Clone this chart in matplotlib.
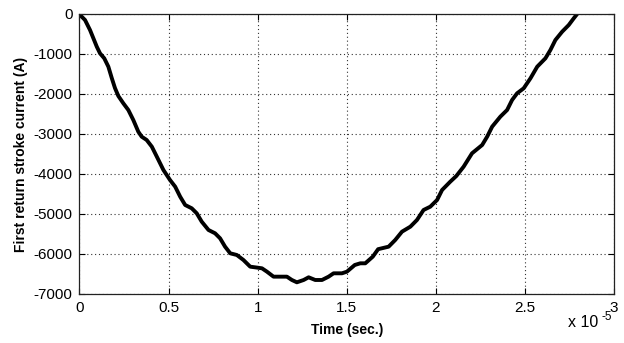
import matplotlib
matplotlib.use("Agg")
import matplotlib.pyplot as plt
from matplotlib.ticker import FuncFormatter

# Time in units of 1e-5 s
time_e5 = [0.0, 0.003, 0.031, 0.059, 0.078, 0.097, 0.115, 0.139, 0.162, 0.181, 0.199,
           0.218, 0.246, 0.274, 0.302, 0.330, 0.349, 0.377, 0.406, 0.434, 0.471,
           0.508, 0.537, 0.565, 0.593, 0.630, 0.658, 0.686, 0.724, 0.761, 0.789,
           0.817, 0.846, 0.883, 0.920, 0.958, 0.996, 1.024, 1.052, 1.089, 1.164,
           1.192, 1.220, 1.258, 1.286, 1.323, 1.361, 1.398, 1.426, 1.473, 1.501,
           1.545, 1.576, 1.604, 1.646, 1.676, 1.735, 1.772, 1.810, 1.857, 1.894,
           1.931, 1.969, 2.007, 2.035, 2.081, 2.115, 2.156, 2.203, 2.260, 2.288,
           2.316, 2.362, 2.400, 2.428, 2.456, 2.493, 2.531, 2.569, 2.615, 2.643,
           2.671, 2.709, 2.746, 2.774, 2.793]
current_A = [0, -25, -150, -400, -608, -817, -983, -1108, -1317, -1600, -1850,
             -2050, -2233, -2400, -2650, -2942, -3067, -3150, -3317, -3567, -3900,
             -4150, -4317, -4567, -4775, -4858, -4983, -5192, -5400, -5483, -5608,
             -5817, -5983, -6025, -6150, -6317, -6340, -6358, -6442, -6567, -6567,
             -6650, -6708, -6650, -6583, -6650, -6650, -6567, -6483, -6483, -6442,
             -6275, -6233, -6233, -6067, -5880, -5817, -5650, -5442, -5317, -5150,
             -4900, -4817, -4650, -4400, -4192, -4050, -3817, -3483, -3275, -3067,
             -2817, -2567, -2400, -2150, -1983, -1858, -1608, -1317, -1108, -900,
             -650, -442, -275, -108, 0]

x_ticks_e5 = [0, 0.5, 1, 1.5, 2, 2.5, 3]
y_ticks = [0, -1000, -2000, -3000, -4000, -5000, -6000, -7000]

plt.rcParams['font.family'] = ['Liberation Sans', 'DejaVu Sans']

fig = plt.figure(figsize=(6.24, 3.43), dpi=100)
ax = fig.add_axes([0.1274, 0.1429, 0.8566, 0.8163])

t_sec = [v * 1e-5 for v in time_e5]
ax.plot(t_sec, current_A, color='black', linewidth=2.8,
        solid_capstyle='round', solid_joinstyle='round')

ax.set_xlim(0, 3e-5)
ax.set_ylim(-7000, 0)
ax.set_xticks([v * 1e-5 for v in x_ticks_e5])
ax.set_yticks(y_ticks)
ax.xaxis.set_major_formatter(FuncFormatter(lambda v, p: ('%g' % round(v * 1e5, 3))))
ax.yaxis.set_major_formatter(FuncFormatter(lambda v, p: '%d' % v))

ax.grid(True, linestyle=(0, (1, 2.5)), color='#333333', linewidth=0.8)
ax.tick_params(direction='in', length=4, width=0.8, top=True, right=True,
               labelsize=11, pad=5)
for s in ax.spines.values():
    s.set_linewidth(0.9)
    s.set_color('#222222')

ax.set_xlabel('Time (sec.)', fontsize=10, fontweight='bold', labelpad=6)
ax.set_ylabel('First return stroke current (A)', fontsize=10, fontweight='bold', labelpad=4)

fig.text(568 / 624, 1 - 327 / 343, 'x 10', fontsize=11.5, ha='left', va='baseline')
fig.text(602 / 624, 1 - 320 / 343, '-5', fontsize=8.5, ha='left', va='baseline')

fig.savefig('out.png', dpi=100)
